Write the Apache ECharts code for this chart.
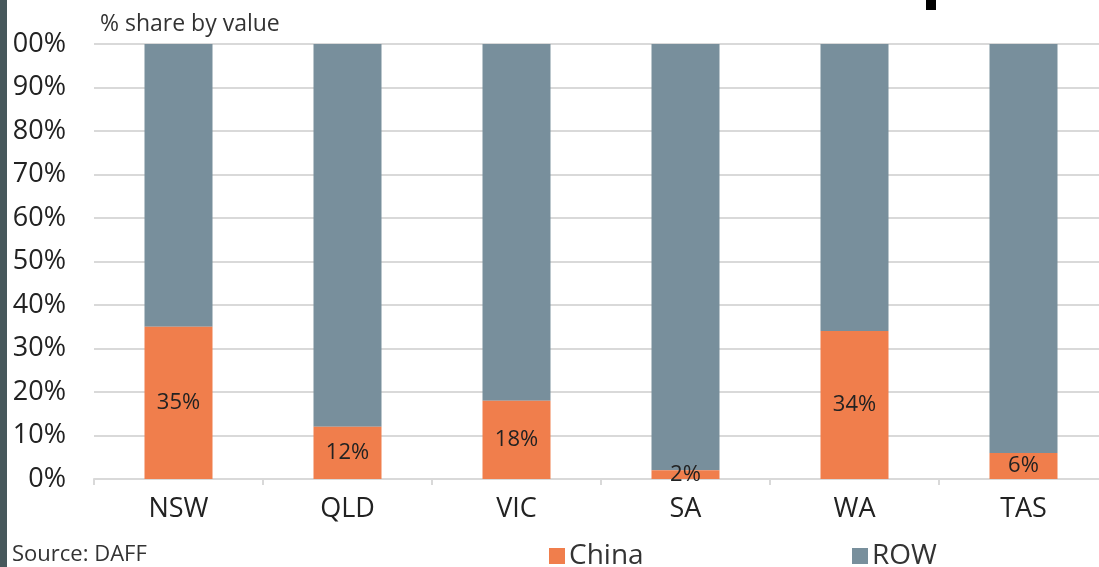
<!DOCTYPE html>
<html>
<head>
<meta charset="utf-8">
<script src="https://cdn.jsdelivr.net/npm/echarts@6/dist/echarts.min.js"></script>
<style>
  html, body { margin: 0; padding: 0; background: #ffffff; }
  #chart { width: 1099px; height: 567px; }
</style>
</head>
<body>
<div id="chart"></div>
<script>
// Export share by state: China vs rest of world (% share by value)
const states = ['NSW', 'QLD', 'VIC', 'SA', 'WA', 'TAS'];
const chinaShare = [35, 12, 18, 2, 34, 6];
const rowShare = [65, 88, 82, 98, 66, 94];
const yTicks = [0, 10, 20, 30, 40, 50, 60, 70, 80, 90, 100];

const FONT = 'Open Sans';
const ORANGE = '#F07E4C';
const SLATE = '#788F9C';

const chart = echarts.init(document.getElementById('chart'));

chart.setOption({
  animation: false,
  backgroundColor: '#ffffff',
  textStyle: { fontFamily: FONT },
  // plot area runs a little past the right edge of the canvas
  grid: { left: 94, right: -9, top: 44, bottom: 88, outerBoundsMode: 'none', containLabel: false },
  title: {
    text: '% share by value',
    left: 95, top: 8,
    textStyle: { fontFamily: FONT, fontSize: 23, fontWeight: 'normal', color: '#333' }
  },
  legend: [
    {
      data: ['China'], left: 544, top: 537,
      icon: 'rect', itemWidth: 16, itemHeight: 16, itemGap: 6,
      textStyle: { fontFamily: FONT, fontSize: 28, color: '#333', padding: [0, 0, 0, -1] }
    },
    {
      data: ['ROW'], left: 847, top: 537,
      icon: 'rect', itemWidth: 16, itemHeight: 16, itemGap: 6,
      textStyle: { fontFamily: FONT, fontSize: 28, color: '#333', padding: [0, 0, 0, -1] }
    }
  ],
  xAxis: {
    type: 'category',
    data: states,
    axisLine: { show: true, lineStyle: { color: '#d9d9d9', width: 2 } },
    axisTick: { show: true, length: 6, lineStyle: { color: '#d9d9d9', width: 2 } },
    axisLabel: { fontFamily: FONT, fontSize: 27, color: '#222', margin: 17 }
  },
  yAxis: {
    type: 'value',
    min: yTicks[0], max: yTicks[yTicks.length - 1], interval: 10,
    axisLine: { show: false },
    axisTick: { show: false },
    splitLine: { lineStyle: { color: '#d9d9d9', width: 2 } },
    axisLabel: {
      fontFamily: FONT, fontSize: 27, color: '#222', margin: 28,
      formatter: '{value}%'
    }
  },
  series: [
    {
      name: 'China', type: 'bar', stack: 'share', data: chinaShare,
      barWidth: 68,
      itemStyle: { color: ORANGE },
      label: {
        show: true, position: 'inside', formatter: '{c}%',
        fontFamily: FONT, fontSize: 22, color: '#222'
      },
      z: 3
    },
    {
      name: 'ROW', type: 'bar', stack: 'share', data: rowShare,
      barWidth: 68,
      itemStyle: { color: SLATE }
    }
  ],
  graphic: [
    { type: 'text', left: 12, top: 544, z: 10,
      style: { text: 'Source: DAFF', fontFamily: FONT, fontSize: 22, fill: '#333' } },
    { type: 'rect', left: 0, top: 0, z: 20,
      shape: { width: 7, height: 567 }, style: { fill: '#47585C' } },
    { type: 'rect', left: 926, top: 0, z: 20,
      shape: { width: 10, height: 10 }, style: { fill: '#000000' } }
  ]
});
</script>
</body>
</html>
